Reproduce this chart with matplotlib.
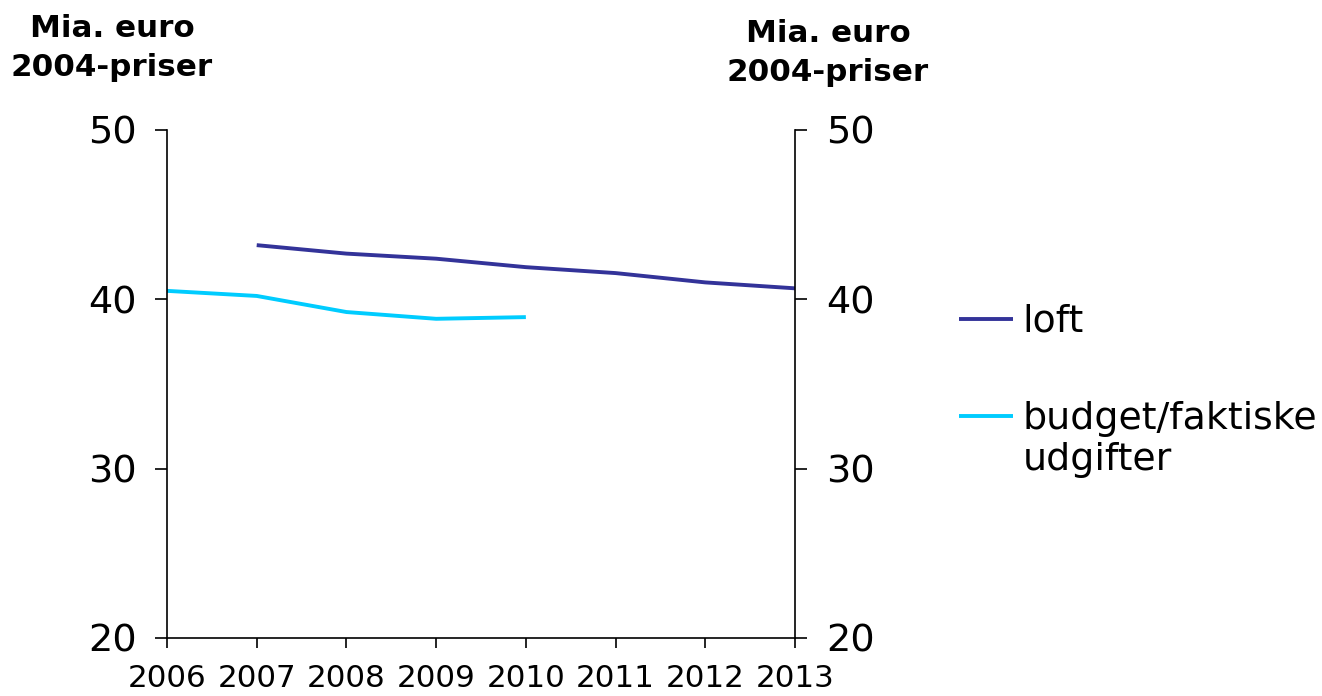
import matplotlib
matplotlib.use("Agg")
import matplotlib.pyplot as plt

years = ["2006", "2007", "2008", "2009", "2010", "2011", "2012", "2013"]
loft_years = ["2007", "2008", "2009", "2010", "2011", "2012", "2013"]
loft = [43.2, 42.7, 42.4, 41.9, 41.55, 41.0, 40.65]
budget_years = ["2006", "2007", "2008", "2009", "2010"]
budget = [40.5, 40.2, 39.25, 38.85, 38.95]
yticks = [20, 30, 40, 50]
unit_lines = ["Mia. euro", "2004-priser"]
legend_labels = ["loft", "budget/faktiske", "udgifter"]

plt.rcParams['font.family'] = ['DejaVu Sans']

W, H = 1322, 696
fig = plt.figure(figsize=(W / 100, H / 100), dpi=100)
ax = fig.add_axes([167/W, 58/H, (795-167)/W, (638-130)/H])

xi = {y: i for i, y in enumerate(years)}
l1, = ax.plot([xi[y] for y in loft_years], loft, color="#333399", lw=2.8,
              solid_capstyle="butt")
l2, = ax.plot([xi[y] for y in budget_years], budget, color="#00CCFF", lw=2.8,
              solid_capstyle="butt")

ax.set_xlim(0, len(years) - 1)
ax.set_ylim(20, 50)
ax.set_yticks(yticks)
ax.set_xticks(range(len(years)))
ax.set_xticklabels(years, fontsize=22.3)
ax.tick_params(axis="y", labelsize=27.5, length=8.6, width=1.2, pad=13, direction="out")
ax.tick_params(axis="x", length=7, width=1.2, pad=12, direction="out")
for s in ["top", "right"]:
    ax.spines[s].set_visible(False)
for s in ["left", "bottom"]:
    ax.spines[s].set_linewidth(1.2)

ax2 = ax.twinx()
ax2.set_ylim(20, 50)
ax2.set_yticks(yticks)
ax2.tick_params(axis="y", labelsize=27.5, length=8.6, width=1.2, pad=14, direction="out")
for s in ["top", "left", "bottom"]:
    ax2.spines[s].set_visible(False)
ax2.spines["right"].set_linewidth(1.2)

for cx, baselines in [(112, (37, 76)), (828, (42, 81))]:
    for txt, by in zip(unit_lines, baselines):
        fig.text(cx / W, 1 - by / H, txt, ha="center", va="baseline",
                 fontsize=22.3, fontweight="bold")

leg = fig.legend(handles=[l1, l2], labels=legend_labels[:2], loc="upper left",
                 bbox_to_anchor=(959/W, 1 - 304/H), frameon=False,
                 fontsize=27.3, handlelength=1.42, handletextpad=0.26,
                 labelspacing=1.61, borderpad=0, borderaxespad=0)
fig.canvas.draw()
bb = leg.get_texts()[1].get_window_extent()
fig.text(bb.x0 / W, (bb.y0 - 41) / H, legend_labels[2],
         ha="left", va="bottom", fontsize=27.3)

fig.savefig("out.png", dpi=100)
